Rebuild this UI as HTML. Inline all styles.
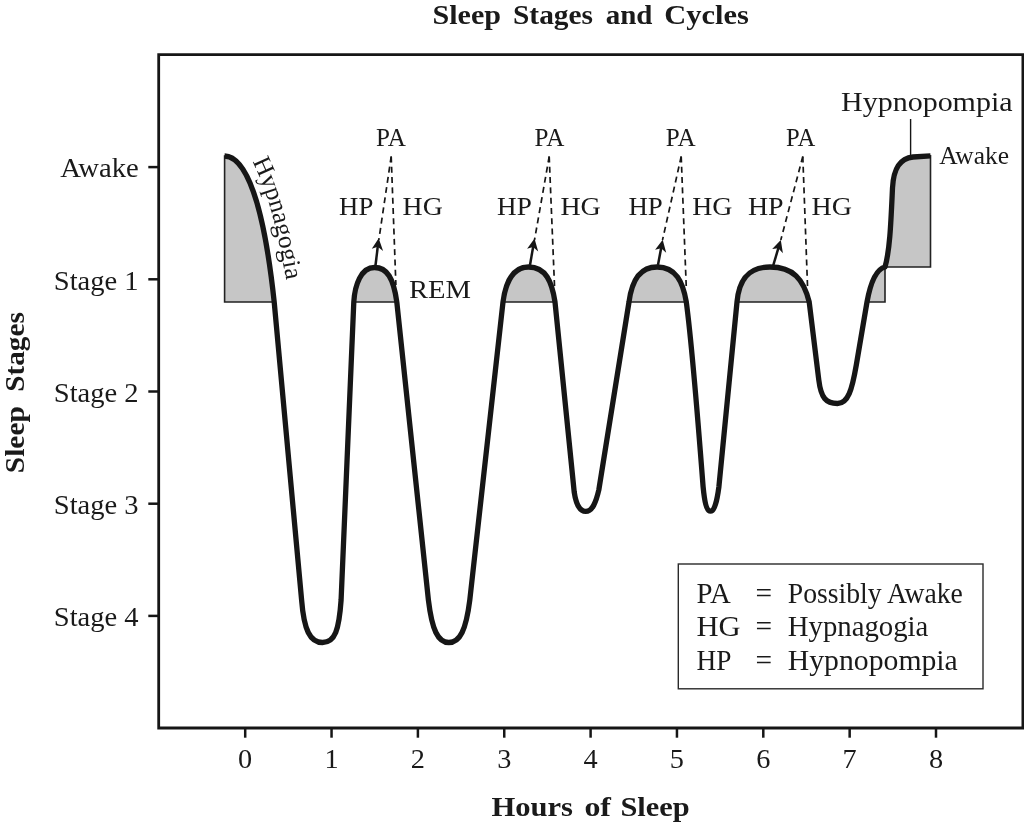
<!DOCTYPE html>
<html lang="en">
<head>
<meta charset="utf-8">
<title>Sleep Stages and Cycles</title>
<style>
html,body{margin:0;padding:0;background:#fff;}
body{width:1024px;height:824px;overflow:hidden;}
svg{display:block;}
text{font-family:"Liberation Serif","DejaVu Serif",serif;fill:#1a1a1a;}
.b{font-weight:bold;}
.ax{font-size:28.3px;}
.in{font-size:25.4px;}
.lg{font-size:28.5px;}
</style>
</head>
<body>
<svg width="1024" height="824" viewBox="0 0 1024 824">
<rect x="0" y="0" width="1024" height="824" fill="#ffffff"/>

<!-- shaded regions -->
<g fill="#c6c6c6" stroke="#222" stroke-width="1.6" stroke-linejoin="miter">
<path id="f0" d="M224.6,156 C252,157 266.5,230 274.2,302 L224.6,302 Z"/>
<path id="f1" d="M353.8,302 C354.8,285 361,267.5 374.5,267.5 C387,267.5 393.5,278 396.8,302 Z"/>
<path id="f2" d="M503,302 C506,280 514,267 528.5,267 C546,267 552,282 555,302 Z"/>
<path id="f3" d="M629,302 C632,280 640,267 657,267 C676,267 683,282 686.3,302 Z"/>
<path id="f4" d="M737,302 C739,280 748,267 770,267 C793,267 803.5,279 809.2,302 Z"/>
<path id="f5" d="M867,302 C871,280 877,269 885,267 L885,302 Z"/>
<path id="f6" d="M885,267 C890,250 891,220 892.5,188 C893.5,168 900,158.5 913,157 L930.5,155.8 L930.5,267 Z"/>
</g>

<!-- main curve -->
<path id="curve" fill="none" stroke="#161616" stroke-width="5.3" stroke-linecap="butt" stroke-linejoin="round"
 d="M224.6,156 C252,157 266.5,230 274.2,302 L301.6,600 C304,630 310,642.5 322.5,642.5 C335,642.5 339,630 341.1,600 L353.8,302 C354.8,285 361,267.5 374.5,267.5 C387,267.5 393.5,278 396.8,302 L428.4,600 C432,630 438,642.5 448.8,642.5 C460,642.5 466,630 469.8,600 L503,302 C506,280 514,267 528.5,267 C546,267 552,282 555,302 L574.2,492 C576,504 579.5,511.4 585.7,511.4 C592.5,511.4 596,502 598.8,490 L629,302 C632,280 640,267 657,267 C676,267 683,282 686.3,302 C692,345 699.5,440 703.1,486.8 C704.5,501 706.5,511.2 710.5,511.2 C714.5,511.2 717,501 718.9,486.8 L737,302 C739,280 748,267 770,267 C793,267 803.5,279 809.2,302 L818.8,380 C821,398 826,403.5 837.5,403.5 C848,403.5 852,390 856.3,365 L867,302 C871,280 877,269 885,267 C890,250 891,220 892.5,188 C893.5,168 900,158.5 913,157 L930.5,155.8"/>

<!-- frame -->
<path d="M158.7,54.6 L1022.9,54.6 L1022.9,728 L158.7,728 Z" fill="none" stroke="#161616" stroke-width="2.8"/>
<g stroke="#161616" stroke-width="2.5">
<line x1="148.3" y1="167.1" x2="158.7" y2="167.1"/>
<line x1="148.3" y1="279.3" x2="158.7" y2="279.3"/>
<line x1="148.3" y1="391.5" x2="158.7" y2="391.5"/>
<line x1="148.3" y1="503.7" x2="158.7" y2="503.7"/>
<line x1="148.3" y1="615.9" x2="158.7" y2="615.9"/>
<line x1="245.20" y1="728" x2="245.20" y2="737.7"/>
<line x1="331.55" y1="728" x2="331.55" y2="737.7"/>
<line x1="417.90" y1="728" x2="417.90" y2="737.7"/>
<line x1="504.25" y1="728" x2="504.25" y2="737.7"/>
<line x1="590.60" y1="728" x2="590.60" y2="737.7"/>
<line x1="676.95" y1="728" x2="676.95" y2="737.7"/>
<line x1="763.30" y1="728" x2="763.30" y2="737.7"/>
<line x1="849.65" y1="728" x2="849.65" y2="737.7"/>
<line x1="936.00" y1="728" x2="936.00" y2="737.7"/>
</g>

<!-- dashed pointers -->
<g fill="none" stroke="#161616" stroke-width="1.7" stroke-dasharray="6 4.3">
<path d="M391.2,156.5 L378.8,240"/>
<path d="M391.2,156.5 L395.9,285"/>
<path d="M549.2,156.5 L534.5,240"/>
<path d="M549.2,156.5 L554.6,288"/>
<path d="M681.2,156.5 L662.5,240"/>
<path d="M681.2,156.5 L686.3,288"/>
<path d="M802.8,156.5 L780.8,240"/>
<path d="M802.8,156.5 L807.6,288.5"/>
</g>
<!-- arrows -->
<g stroke="#161616" stroke-width="2.5" fill="none">
<line x1="375.5" y1="265.5" x2="377.8" y2="246.2"/>
<line x1="530" y1="265" x2="533.2" y2="246.5"/>
<line x1="658" y1="265" x2="661.2" y2="247.7"/>
<line x1="773.2" y1="265.5" x2="778.5" y2="247.7"/>
</g>
<g fill="#161616">
<path d="M378.7,238.3 L383.1,250.9 L377.7,246.8 L371.8,248.8 Z"/>
<path d="M534.5,238.6 L538.2,251.4 L533.1,247.1 L527.1,248.7 Z"/>
<path d="M662.7,239.8 L666.2,252.7 L661.1,248.3 L655.1,249.8 Z"/>
<path d="M780.8,240.0 L782.9,253.2 L778.3,248.2 L772.2,249.1 Z"/>
</g>
<!-- leader -->
<line x1="910.6" y1="119" x2="910.6" y2="157" stroke="#161616" stroke-width="1.4"/>

<!-- legend -->
<rect x="678.3" y="564" width="304.7" height="124.8" fill="#fff" stroke="#2a2a2a" stroke-width="1.4"/>
<g class="lg">
<text x="696.5" y="603.1" textLength="34.2" lengthAdjust="spacingAndGlyphs">PA</text>
<text x="755.6" y="603.1" textLength="16.6" lengthAdjust="spacingAndGlyphs">=</text>
<text x="787.8" y="603.1" textLength="175" lengthAdjust="spacingAndGlyphs">Possibly Awake</text>
<text x="696.5" y="636.3" textLength="44.2" lengthAdjust="spacingAndGlyphs">HG</text>
<text x="755.6" y="636.3" textLength="16.6" lengthAdjust="spacingAndGlyphs">=</text>
<text x="787.8" y="636.3" textLength="140.5" lengthAdjust="spacingAndGlyphs">Hypnagogia</text>
<text x="696.5" y="669.5" textLength="34.9" lengthAdjust="spacingAndGlyphs">HP</text>
<text x="755.6" y="669.5" textLength="16.6" lengthAdjust="spacingAndGlyphs">=</text>
<text x="787.8" y="669.5" textLength="170" lengthAdjust="spacingAndGlyphs">Hypnopompia</text>
</g>

<!-- title -->
<text class="b" y="24.2" font-size="28.2px"><tspan x="432.5" textLength="68.6" lengthAdjust="spacingAndGlyphs">Sleep</tspan> <tspan x="513" textLength="80" lengthAdjust="spacingAndGlyphs">Stages</tspan> <tspan x="605.7" textLength="46.8" lengthAdjust="spacingAndGlyphs">and</tspan> <tspan x="664.3" textLength="84.6" lengthAdjust="spacingAndGlyphs">Cycles</tspan></text>

<!-- axis titles -->
<text class="b" y="816.2" font-size="27.2px"><tspan x="491.4" textLength="81.6" lengthAdjust="spacingAndGlyphs">Hours</tspan> <tspan x="584.4" textLength="26.6" lengthAdjust="spacingAndGlyphs">of</tspan> <tspan x="620.4" textLength="69.3" lengthAdjust="spacingAndGlyphs">Sleep</tspan></text>
<text class="b" transform="translate(23.8,473.2) rotate(-90)" font-size="27.5px"><tspan x="0" textLength="67" lengthAdjust="spacingAndGlyphs">Sleep</tspan> <tspan x="81.5" textLength="79.5" lengthAdjust="spacingAndGlyphs">Stages</tspan></text>

<!-- y labels -->
<g class="ax">
<text x="60.2" y="177.3" textLength="78.6" lengthAdjust="spacingAndGlyphs">Awake</text>
<text x="53.8" y="289.5" textLength="84.8" lengthAdjust="spacingAndGlyphs">Stage 1</text>
<text x="53.8" y="401.7" textLength="84.8" lengthAdjust="spacingAndGlyphs">Stage 2</text>
<text x="53.8" y="513.9" textLength="84.8" lengthAdjust="spacingAndGlyphs">Stage 3</text>
<text x="53.8" y="626.1" textLength="84.8" lengthAdjust="spacingAndGlyphs">Stage 4</text>
</g>
<!-- x labels -->
<g class="ax" text-anchor="middle">
<text x="245.20" y="767.6">0</text>
<text x="331.55" y="767.6">1</text>
<text x="417.90" y="767.6">2</text>
<text x="504.25" y="767.6">3</text>
<text x="590.60" y="767.6">4</text>
<text x="676.95" y="767.6">5</text>
<text x="763.30" y="767.6">6</text>
<text x="849.65" y="767.6">7</text>
<text x="936.00" y="767.6">8</text>
</g>

<!-- inner labels -->
<g class="in">
<text x="376" y="145.5" textLength="29.8" lengthAdjust="spacingAndGlyphs">PA</text>
<text x="534.5" y="145.5" textLength="29.8" lengthAdjust="spacingAndGlyphs">PA</text>
<text x="665.8" y="145.5" textLength="29.8" lengthAdjust="spacingAndGlyphs">PA</text>
<text x="786" y="145.5" textLength="29.2" lengthAdjust="spacingAndGlyphs">PA</text>
<text x="339.1" y="215" textLength="34.2" lengthAdjust="spacingAndGlyphs">HP</text>
<text x="497.1" y="215" textLength="34.7" lengthAdjust="spacingAndGlyphs">HP</text>
<text x="628.4" y="215" textLength="34.4" lengthAdjust="spacingAndGlyphs">HP</text>
<text x="747.9" y="215" textLength="35.7" lengthAdjust="spacingAndGlyphs">HP</text>
<text x="402.6" y="215" textLength="40.2" lengthAdjust="spacingAndGlyphs">HG</text>
<text x="560.4" y="215" textLength="40.4" lengthAdjust="spacingAndGlyphs">HG</text>
<text x="692.2" y="215" textLength="40.2" lengthAdjust="spacingAndGlyphs">HG</text>
<text x="811.6" y="215" textLength="40.5" lengthAdjust="spacingAndGlyphs">HG</text>
<text x="409" y="298" textLength="62" lengthAdjust="spacingAndGlyphs">REM</text>
<text x="939.2" y="163.5" font-size="25.8px" textLength="69.8" lengthAdjust="spacingAndGlyphs">Awake</text>
</g>
<text x="841" y="111.2" font-size="27.5px" textLength="171.6" lengthAdjust="spacingAndGlyphs">Hypnopompia</text>
<path id="hgpath" d="M252.4,161.2 L253.4,163.3 C270.9,199.3 278.6,240.2 286.2,279.5 L288.5,292" fill="none" stroke="none"/>
<text font-size="25.4px"><textPath href="#hgpath" startOffset="0">Hypnagogia</textPath></text>
</svg>
</body>
</html>
